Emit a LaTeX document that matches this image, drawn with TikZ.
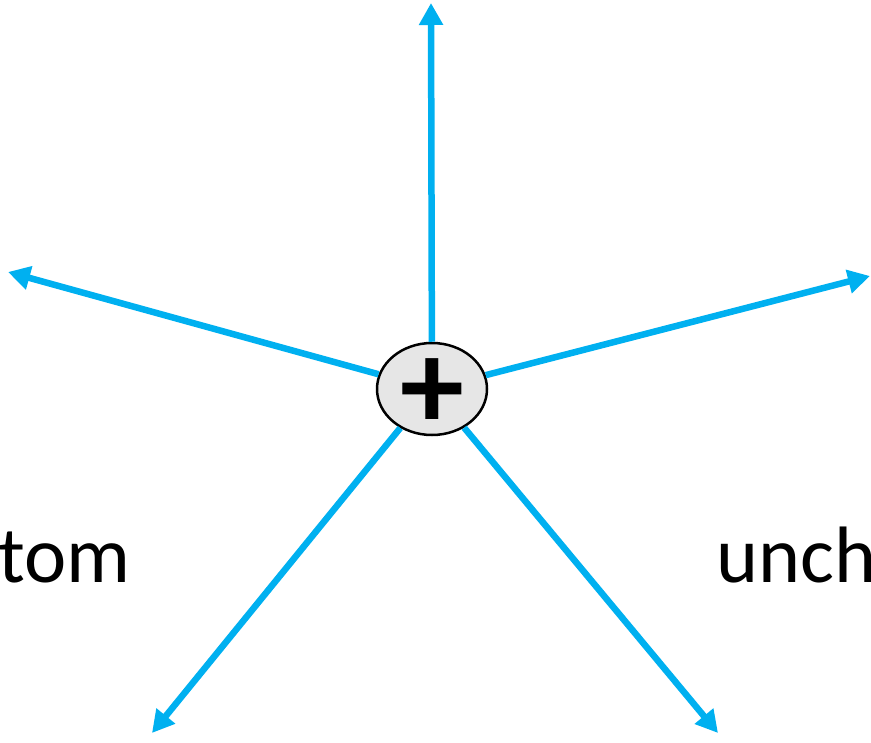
\documentclass[tikz,border=0pt]{standalone}
\usepackage{fontspec}
\setmainfont{Carlito}
\usetikzlibrary{arrows.meta,shapes.geometric}
\definecolor{rayblue}{HTML}{00B0F0}
\definecolor{hubgray}{HTML}{E6E6E6}
\tikzset{
	ray/.style={draw=rayblue, line width=6.5pt, -{Triangle[width=23pt,length=22pt]}},
	hub/.style={ellipse, draw=black, line width=2.5pt, fill=hubgray, minimum width=110pt, minimum height=92pt, inner sep=0pt},
	word/.style={inner sep=0pt, font=\fontsize{80}{80}\selectfont}
}
\begin{document}
\begin{tikzpicture}[x=1pt,y=-1pt]
	\useasboundingbox (0,0) rectangle (871,743);
	% centre and ends of the rays
	\node[hub] (hub) at (432,389) {};
	\node[inner sep=0pt, font=\fontsize{128}{128}\selectfont\bfseries] (plus) at (432,394) {+};
	\coordinate (up) at (431,3);
	\coordinate (left) at (8,272);
	\coordinate (right) at (870,276);
	\coordinate (downleft) at (152,733);
	\coordinate (downright) at (718,733);
	\foreach \e in {up,left,right,downleft,downright} {
		\draw[ray] (hub) -- (\e);
	}
	% cut words
	\node[word, anchor=base west] (tom) at (-2,582) {tom};
	\node[word, anchor=base west] (unch) at (716,582) {unch};
\end{tikzpicture}
\end{document}
